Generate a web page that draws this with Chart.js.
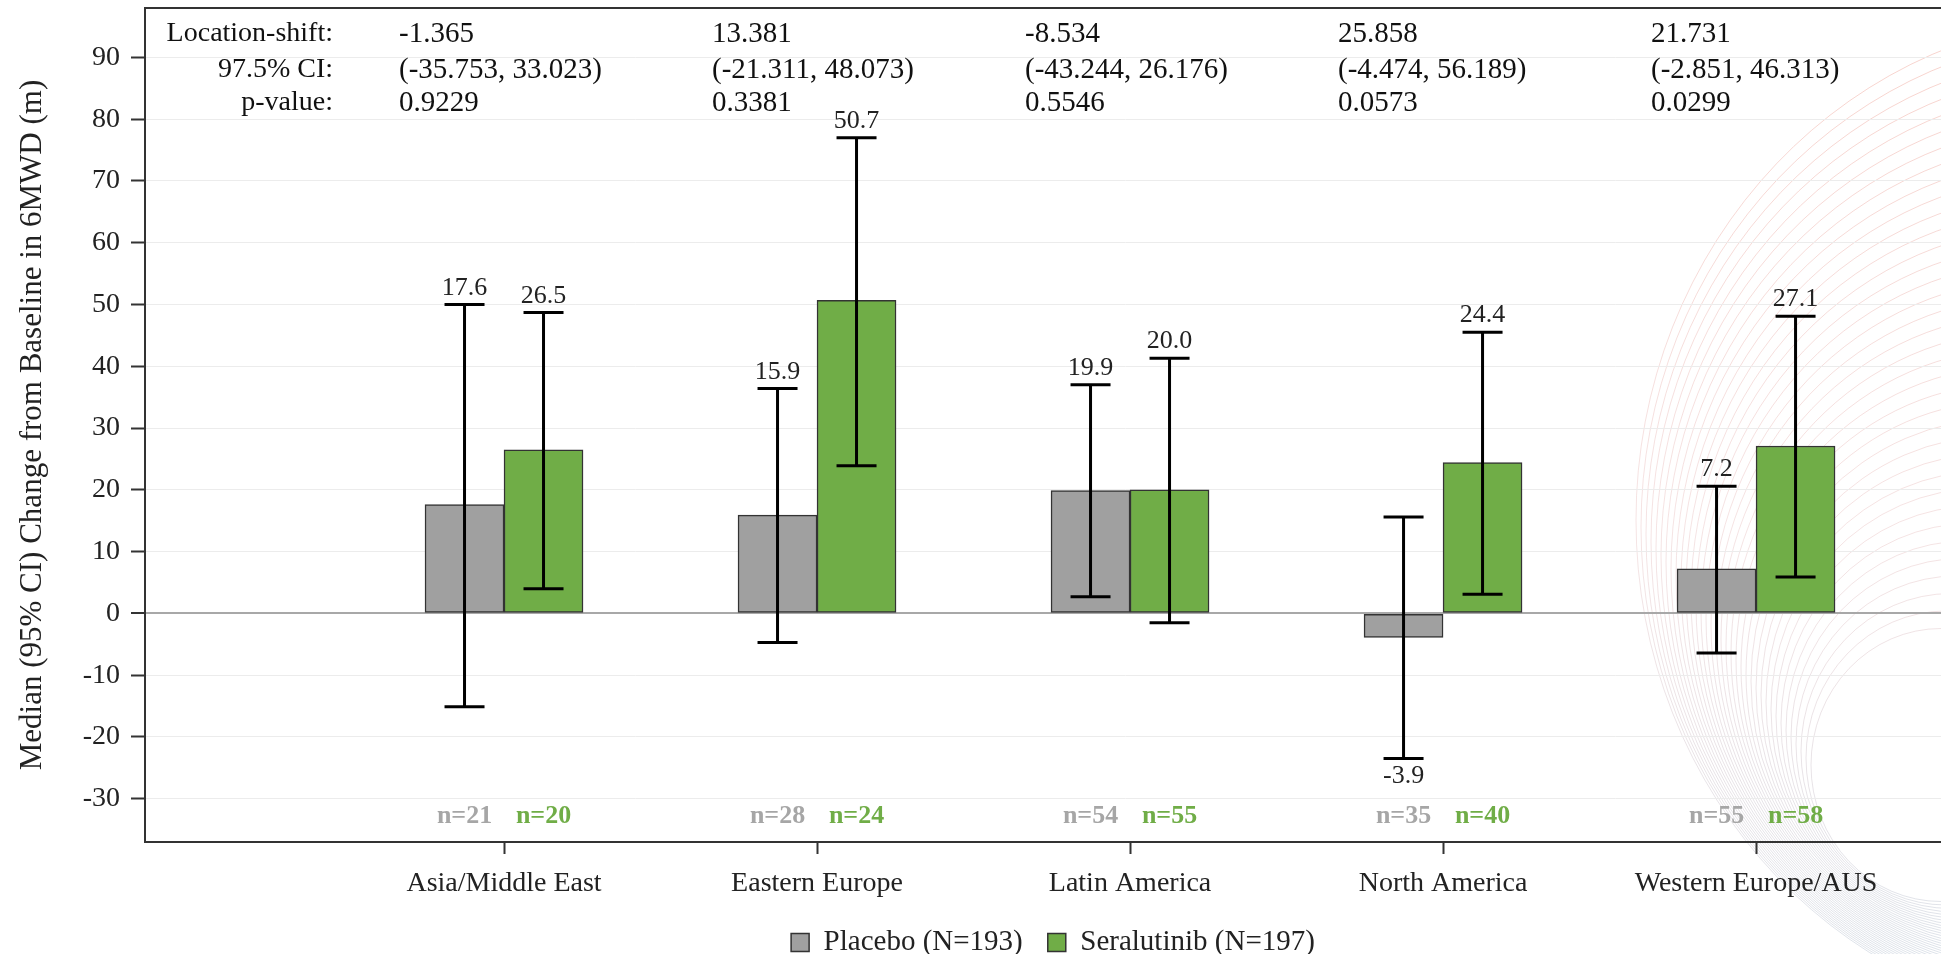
<!DOCTYPE html>
<html>
<head>
<meta charset="utf-8">
<script src="https://cdn.jsdelivr.net/npm/chart.js@4"></script>
<style>
  html, body { margin: 0; padding: 0; background: #fff; overflow: hidden; }
  #wrap { width: 2106px; height: 967px; }
</style>
</head>
<body>
<div id="wrap"><canvas id="chart"></canvas></div>
<script>
// regions on the x axis
const categories = ['Asia/Middle East', 'Eastern Europe', 'Latin America', 'North America', 'Western Europe/AUS'];

// medians and 95% CI
const placeboMedian = [17.6, 15.9, 19.9, -3.9, 7.2];
const placeboLower = [-15.1, -4.7, 2.7, -23.5, -6.4];
const placeboUpper = [50.0, 36.4, 37.0, 15.6, 20.6];
const seralMedian = [26.5, 50.7, 20.0, 24.4, 27.1];
const seralLower = [4.0, 23.9, -1.5, 3.1, 5.9];
const seralUpper = [48.7, 77.0, 41.3, 45.5, 48.1];

const placeboN = [21, 28, 54, 35, 55];
const seralN = [20, 24, 55, 40, 58];

// location shift table at the top
const statLabels = ['Location-shift:', '97.5% CI:', 'p-value:'];
const locShift = ['-1.365', '13.381', '-8.534', '25.858', '21.731'];
const shiftCI = ['(-35.753, 33.023)', '(-21.311, 48.073)', '(-43.244, 26.176)', '(-4.474, 56.189)', '(-2.851, 46.313)'];
const pValues = ['0.9229', '0.3381', '0.5546', '0.0573', '0.0299'];

const yTicks = [-30, -20, -10, 0, 10, 20, 30, 40, 50, 60, 70, 80, 90];

const FONT = "'Liberation Serif', 'Times New Roman', serif";
const GRAY = '#a0a0a0';
const GREEN = '#70ad47';

const intervals = [
  { lower: placeboLower, upper: placeboUpper, median: placeboMedian, n: placeboN, nColor: '#a6a6a6' },
  { lower: seralLower, upper: seralUpper, median: seralMedian, n: seralN, nColor: GREEN }
];

// faint swirl in the background on the right
const backdrop = {
  id: 'backdrop',
  beforeDraw(chart) {
    const ctx = chart.ctx;
    ctx.save();
    ctx.fillStyle = '#fff';
    ctx.fillRect(0, 0, chart.width, chart.height);
    const grad = ctx.createLinearGradient(0, 0, 0, 954);
    grad.addColorStop(0, 'rgba(240,155,140,0.45)');
    grad.addColorStop(0.55, 'rgba(225,170,170,0.32)');
    grad.addColorStop(1, 'rgba(160,175,195,0.35)');
    ctx.strokeStyle = grad;
    ctx.lineWidth = 1;
    for (let k = 0; k < 36; k++) {
      const r = 480 - k * 10;
      ctx.beginPath();
      ctx.ellipse(1636 + r + k * 5, 520 + k * 7, r, r * 1.05, 0, 0, Math.PI * 2);
      ctx.stroke();
    }
    ctx.restore();
  }
};

const overlay = {
  id: 'overlay',
  afterDatasetsDraw(chart) {
    const ctx = chart.ctx;
    const y = chart.scales.y;
    const x = chart.scales.x;
    const area = chart.chartArea;
    ctx.save();

    intervals.forEach((set, d) => {
      const meta = chart.getDatasetMeta(d);
      meta.data.forEach((bar, i) => {
        const cx = bar.x;
        const yHi = y.getPixelForValue(set.upper[i]);
        const yLo = y.getPixelForValue(set.lower[i]);
        ctx.strokeStyle = '#000';
        ctx.lineWidth = 3;
        ctx.beginPath();
        ctx.moveTo(cx, yHi); ctx.lineTo(cx, yLo);
        ctx.moveTo(cx - 20, yHi); ctx.lineTo(cx + 20, yHi);
        ctx.moveTo(cx - 20, yLo); ctx.lineTo(cx + 20, yLo);
        ctx.stroke();

        ctx.fillStyle = '#222';
        ctx.font = '26px ' + FONT;
        ctx.textAlign = 'center';
        const txt = set.median[i].toFixed(1);
        if (set.median[i] < 0) {
          ctx.textBaseline = 'top';
          ctx.fillText(txt, cx, yLo + 5);
        } else {
          ctx.textBaseline = 'alphabetic';
          ctx.fillText(txt, cx, yHi - 10);
        }

        ctx.fillStyle = set.nColor;
        ctx.font = 'bold 26px ' + FONT;
        ctx.textBaseline = 'middle';
        ctx.fillText('n=' + set.n[i], cx, area.bottom - 26);
      });
    });

    // stats table
    ctx.fillStyle = '#111';
    ctx.textBaseline = 'middle';
    const rows = [locShift, shiftCI, pValues];
    const rowY = [26, 62, 95];
    statLabels.forEach((s, r) => {
      ctx.font = '28px ' + FONT;
      ctx.textAlign = 'right';
      ctx.fillText(s, 333, area.top + rowY[r]);
      ctx.font = '29px ' + FONT;
      ctx.textAlign = 'left';
      rows[r].forEach((v, i) => {
        ctx.fillText(v, x.getPixelForValue(i) - 105, area.top + rowY[r]);
      });
    });

    ctx.restore();
  },
  afterDraw(chart) {
    const a = chart.chartArea;
    const ctx = chart.ctx;
    ctx.save();
    ctx.strokeStyle = '#333';
    ctx.lineWidth = 2;
    ctx.strokeRect(a.left, a.top, a.right - a.left, a.bottom - a.top);
    ctx.restore();
  }
};

new Chart(document.getElementById('chart'), {
  type: 'bar',
  data: {
    datasets: [
      {
        label: 'Placebo (N=193)',
        data: placeboMedian.map((v, i) => ({ x: i, y: v })),
        backgroundColor: GRAY,
        borderColor: '#333',
        borderWidth: 1.5,
        borderSkipped: false,
        barThickness: 79
      },
      {
        label: 'Seralutinib (N=197)',
        data: seralMedian.map((v, i) => ({ x: i, y: v })),
        backgroundColor: GREEN,
        borderColor: '#333',
        borderWidth: 1.5,
        borderSkipped: false,
        barThickness: 79
      }
    ]
  },
  options: {
    responsive: true,
    maintainAspectRatio: false,
    animation: false,
    layout: { padding: { top: 8, right: 0, bottom: 0, left: 0 } },
    plugins: {
      tooltip: { enabled: false },
      legend: {
        position: 'bottom',
        labels: {
          boxWidth: 18,
          boxHeight: 18,
          padding: 25,
          color: '#222',
          font: { family: FONT, size: 29 }
        }
      }
    },
    scales: {
      x: {
        type: 'linear',
        offset: false,
        min: -1.147,
        max: 5.118,
        afterBuildTicks: s => { s.ticks = categories.map((c, i) => ({ value: i })); },
        afterFit: s => { s.height = 61; },
        ticks: {
          callback: v => categories[v],
          color: '#222',
          padding: 13,
          maxRotation: 0,
          autoSkip: false,
          font: { family: FONT, size: 28 }
        },
        grid: { offset: false, drawOnChartArea: false, tickLength: 12, tickColor: '#333', tickWidth: 2 },
        border: { display: false }
      },
      y: {
        min: -37,
        max: 98,
        afterBuildTicks: s => { s.ticks = yTicks.map(v => ({ value: v })); },
        afterFit: s => { s.width = 145; s.paddingTop = 0; s.paddingBottom = 0; },
        title: {
          display: true,
          text: 'Median (95% CI) Change from Baseline in 6MWD (m)',
          color: '#222',
          padding: { top: 14, bottom: 0 },
          font: { family: FONT, size: 31 }
        },
        ticks: {
          color: '#222',
          padding: 11,
          font: { family: FONT, size: 28 }
        },
        grid: {
          color: c => c.tick && c.tick.value === 0 ? '#a8a8a8' : '#ececec',
          lineWidth: c => c.tick && c.tick.value === 0 ? 2 : 1,
          tickColor: '#333',
          tickLength: 14,
          tickWidth: 2
        },
        border: { display: false }
      }
    }
  },
  plugins: [backdrop, overlay]
});
</script>
</body>
</html>
